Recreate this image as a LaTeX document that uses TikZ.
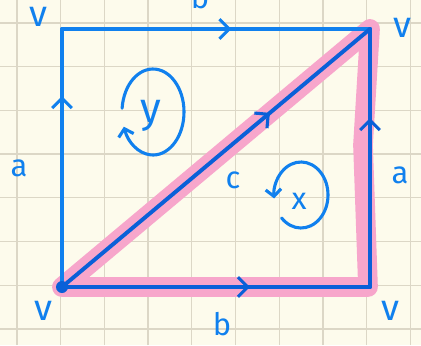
\documentclass[tikz,border=0pt]{standalone}
\usepackage{fontspec}
\setmainfont{Fira Sans}
\usetikzlibrary{arrows.meta, decorations.markings, calc}
\definecolor{paper}{RGB}{253,251,236}
\definecolor{gridcol}{RGB}{220,215,198}
\definecolor{penblue}{RGB}{16,128,238}
\definecolor{deepblue}{RGB}{10,96,216}
\definecolor{hilite}{RGB}{247,166,203}

\tikzset{
  sideline/.style={line width=2.8pt, line cap=round,
    postaction={decorate, decoration={markings,
      mark=at position #1 with {\arrow[line width=2.2pt]{Straight Barb[length=7pt,width=14pt]}}}}},
  lbl/.style={text=penblue, font=\fontsize{22}{24}\selectfont, inner sep=0pt},
  vlbl/.style={lbl, font=\fontsize{26}{28}\selectfont},
  turn/.style={draw=penblue, line width=2.2pt, line cap=round,
    -{Straight Barb[length=5pt,width=11pt]}},
}

\begin{document}
\begin{tikzpicture}[x=0.025cm, y=0.025cm]

  %% paper and grid
  \fill[paper] (0,0) rectangle (421,345);
  \useasboundingbox (0,0) rectangle (421,345);
  \foreach \i in {0,...,9}
    \draw[gridcol, line width=0.9pt] (17+43.7*\i, 0) -- ++(0,345);
  \foreach \j in {0,...,7}
    \draw[gridcol, line width=0.9pt] (0, 322-43.7*\j) -- ++(421,0);

  %% corners of the square
  \coordinate (tl) at (62,316);
  \coordinate (tr) at (370,316);
  \coordinate (bl) at (62,58);
  \coordinate (br) at (370,58);

  %% highlighted triangle
  \draw[hilite, line width=14pt, line join=round, line cap=round]
    (bl) -- (tr) -- (363,200) -- ($(br)+(-2,0)$) -- cycle;

  %% edges
  \draw[sideline=0.55, penblue] (tl) -- (tr);
  \draw[sideline=0.74, penblue] (bl) -- (tl);
  \draw[sideline=0.655, deepblue] (br) -- (tr);
  \draw[sideline=0.61, deepblue] (bl) -- (br);
  \draw[sideline=0.675, deepblue] (bl) -- (tr);
  \fill[deepblue] (bl) circle (6);

  %% labels
  \node[vlbl] (vtl) at (38,328) {v};
  \node[lbl] (btop) at (200,348) {b};
  \node[vlbl] (vtr) at (402,317) {v};
  \node[lbl] (aleft) at (19,177) {a};
  \node[lbl] (aright) at (400,170) {a};
  \node[lbl] (clab) at (233,165) {c};
  \node[vlbl] (vbl) at (43,34) {v};
  \node[vlbl] (vbr) at (390,34) {v};
  \node[lbl] (bbot) at (222,21) {b};

  %% orientation loops
  \coordinate (ycen) at (153,233);
  \node[lbl, font=\fontsize{30}{32}\selectfont] (ylab) at (151,229) {y};
  \draw[turn] ($(ycen)+(175:31 and 43)$)
    arc[start angle=175, end angle=-160, x radius=31, y radius=43];

  \coordinate (xcen) at (301,150);
  \node[lbl] (xlab) at (299,144) {x};
  \draw[turn] ($(xcen)+(-136:27 and 33)$)
    arc[start angle=-136, end angle=186, x radius=27, y radius=33];

\end{tikzpicture}
\end{document}
